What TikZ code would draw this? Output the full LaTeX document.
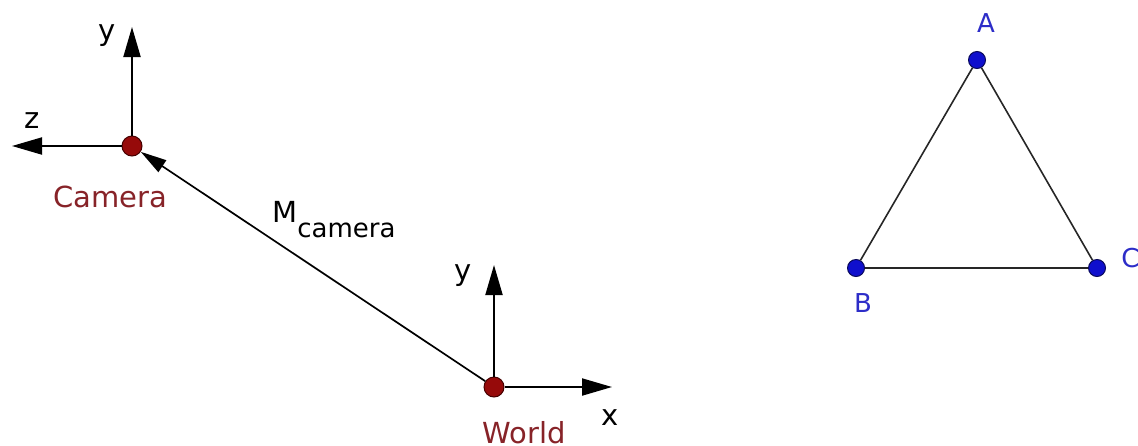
\documentclass[tikz,border=0pt]{standalone}
\usepackage{fontspec}
\setmainfont{DejaVu Sans}
\usetikzlibrary{arrows.meta}
\definecolor{dotred}{RGB}{150,10,10}
\definecolor{dotredline}{RGB}{70,0,0}
\definecolor{txtred}{RGB}{135,35,40}
\definecolor{dotblue}{RGB}{15,15,205}
\definecolor{dotblueline}{RGB}{10,10,90}
\definecolor{txtblue}{RGB}{45,45,200}
\begin{document}
\begin{tikzpicture}[x=0.5pt,y=-0.5pt,
  axis/.style={line width=1pt,-{Triangle[length=15pt,width=8.5pt]}},
  conn/.style={line width=0.85pt,-{Triangle[length=13pt,width=7pt]}},
  edge/.style={line width=0.8pt,draw=black!85},
  ptred/.style={circle,fill=dotred,draw=dotredline,line width=0.5pt,minimum size=10pt,inner sep=0pt},
  ptblue/.style={circle,fill=dotblue,draw=dotblueline,line width=0.5pt,minimum size=8.5pt,inner sep=0pt},
  lbl/.style={font=\fontsize{14.5}{16}\selectfont,inner sep=0pt},
  redlbl/.style={lbl,text=txtred},
  bluelbl/.style={lbl,font=\fontsize{13}{15}\selectfont,text=txtblue}
]
\useasboundingbox (0,0) rectangle (1138,445);
\clip (0,0) rectangle (1138,445);

% points
\node[ptred] (cam) at (132,146) {};
\node[ptred] (wor) at (494,387) {};
\node[ptblue] (A) at (977,60) {};
\node[ptblue] (B) at (856,268) {};
\node[ptblue] (C) at (1097,268) {};

% axis tips
\coordinate (camy) at (132,27);
\coordinate (camz) at (12,146);
\coordinate (wory) at (494,265);
\coordinate (worx) at (612,387);

% axes
\draw[axis] (cam) -- (camy);
\draw[axis] (cam) -- (camz);
\draw[axis] (wor) -- (wory);
\draw[axis] (wor) -- (worx);

% transform arrow
\draw[conn] (wor) -- (cam);

% triangle
\draw[edge] (A) -- (B) -- (C) -- (A);

% labels
\node[lbl,anchor=base] (lcy) at (107,40) {y};
\node[lbl,anchor=base] (lcz) at (32,128) {z};
\node[redlbl,anchor=base] (lcam) at (110,207) {Camera};
\node[lbl,anchor=base west] (lm) at (272,222) {M\raisebox{-7.5pt}{\fontsize{13}{15}\selectfont camera}};
\node[lbl,anchor=base] (lwy) at (463,280) {y};
\node[lbl,anchor=base] (lwx) at (610,425) {x};
\node[redlbl,anchor=base west] (lwor) at (482,443) {World};
\node[bluelbl,anchor=base] (lA) at (986,32) {A};
\node[bluelbl,anchor=base] (lB) at (863,312) {B};
\node[bluelbl,anchor=base west] (lC) at (1121,267) {C};
\end{tikzpicture}
\end{document}
